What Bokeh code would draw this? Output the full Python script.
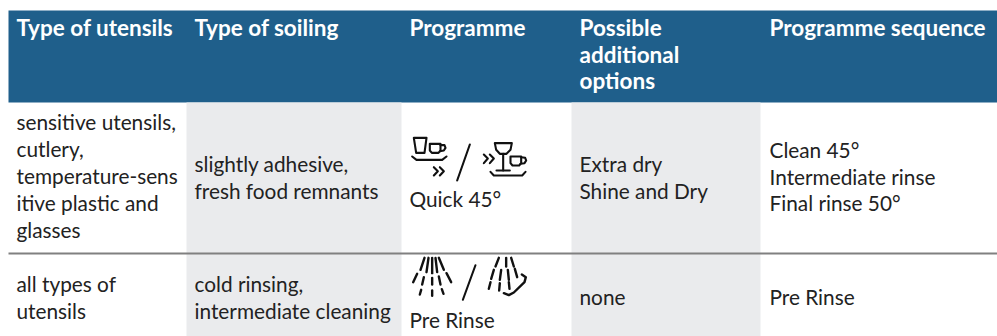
from bokeh.plotting import figure
from bokeh.embed import file_html
from bokeh.resources import INLINE
from bokeh.models import Range1d
from bokeh.core.properties import value

headers = [["Type of utensils"], ["Type of soiling"], ["Programme"],
           ["Possible", "additional", "options"], ["Programme sequence"]]
row1 = [["sensitive utensils,", "cutlery,", "temperature-sens", "itive plastic and", "glasses"],
        ["slightly adhesive,", "fresh food remnants"],
        ["Quick 45°"],
        ["Extra dry", "Shine and Dry"],
        ["Clean 45°", "Intermediate rinse", "Final rinse 50°"]]
row2 = [["all types of", "utensils"],
        ["cold rinsing,", "intermediate cleaning"],
        ["Pre Rinse"],
        ["none"],
        ["Pre Rinse"]]

BLUE, GREY, LINE, INK = "#1f5f8b", "#eaebed", "#808080", "#222222"
col_edges = [8, 186, 401, 571, 760, 997]
col_text = [16, 194, 409, 579, 769]
W, H = 997, 336

p = figure(width=W, height=H, output_backend="svg", toolbar_location=None,
           x_range=Range1d(0, W), y_range=Range1d(H, 0),
           min_border=0, outline_line_color=None)
p.xaxis.visible = False
p.yaxis.visible = False
p.grid.visible = False
p.background_fill_color = "white"
p.border_fill_color = "white"

p.quad(left=[8], right=[997], top=[10], bottom=[102], fill_color=BLUE, line_color=None)
p.quad(left=[col_edges[1], col_edges[3]], right=[col_edges[2], col_edges[4]],
       top=[102, 102], bottom=[336, 336], fill_color=GREY, line_color=None)
p.line([8, 997], [253, 253], line_color=LINE, line_width=2)

FONT = "Lato"
def put(lines, x, y0, step, size, color, style="normal"):
    ys = [y0 + i * step for i in range(len(lines))]
    p.text(x=[x] * len(lines), y=ys, text=lines, text_font=value(FONT), text_font_size=size,
           text_color=color, text_font_style=style, text_baseline="alphabetic", text_align="left")

HS, BS = "22.5px", "20.8px"
for x, t in zip(col_text, headers):
    put(t, x, 27, 26.5, HS, "white", "bold")
for x, t, y0, step in zip(col_text, row1, [120.5, 163, 198, 163, 149], [27, 27, 26.5, 27, 26.5]):
    put(t, x, y0, step, BS, INK)
for x, t, y0 in zip(col_text, row2, [283, 283, 319, 296, 296]):
    put(t, x, y0, 26.5, BS, INK)

# Pictograms, traced in 3x crop units relative to an origin
def icon(ox, oy, strokes, width=2.1):
    xs = [[ox + a / 3 for a, b in s] for s in strokes]
    ys = [[oy + b / 3 for a, b in s] for s in strokes]
    p.multi_line(xs, ys, line_color="#111111", line_width=width, line_cap="round", line_join="round")

quick = [
    [(40, 52), (47, 97), (72, 97), (78, 52), (40, 52)],
    [(88, 70), (120, 70), (120, 90), (114, 97), (94, 97), (88, 90), (88, 70)],
    [(120, 74), (132, 74), (135, 82), (130, 90), (118, 92)],
    [(35, 108), (48, 118), (125, 118), (138, 108)],
    [(100, 140), (112, 152), (100, 165)], [(118, 140), (130, 152), (118, 165)],
    [(208, 72), (170, 180)],
    [(283, 68), (334, 68), (330, 88), (318, 100), (298, 100), (287, 88), (283, 68)],
    [(308, 100), (308, 150)], [(288, 150), (328, 150)],
    [(330, 108), (362, 108), (362, 128), (356, 135), (336, 135), (330, 128), (330, 108)],
    [(362, 110), (374, 112), (377, 120), (372, 128), (360, 130)],
    [(270, 154), (280, 165), (365, 165), (375, 154)],
    [(250, 102), (262, 114), (250, 128)], [(268, 102), (280, 114), (268, 128)],
]
icon(400, 120, quick)

rinse = [
    [(72, 52), (60, 88)], [(95, 52), (95, 98)], [(115, 52), (130, 88)],
    [(84, 52), (78, 95)], [(105, 52), (110, 95)],
    [(50, 100), (38, 125)], [(70, 110), (65, 132)], [(95, 112), (95, 132)],
    [(115, 108), (120, 132)], [(138, 98), (152, 125)],
    [(62, 148), (58, 162)], [(95, 150), (95, 166)], [(124, 146), (129, 160)],
    [(295, 52), (285, 78)], [(317, 52), (317, 78)], [(332, 52), (340, 78)],
    [(280, 88), (272, 115)], [(302, 88), (298, 118)], [(322, 88), (325, 118)], [(343, 85), (350, 110)],
    [(270, 125), (265, 145)], [(298, 128), (296, 150)], [(325, 125), (327, 145)],
    [(310, 158), (325, 164), (340, 156), (372, 125), (376, 110), (364, 102)],
]
icon(400, 240, rinse, 2.4)
icon(400, 240, [[(225, 74), (187, 178)]], 2.0)

open("out.html", "w").write(file_html(p, INLINE))
